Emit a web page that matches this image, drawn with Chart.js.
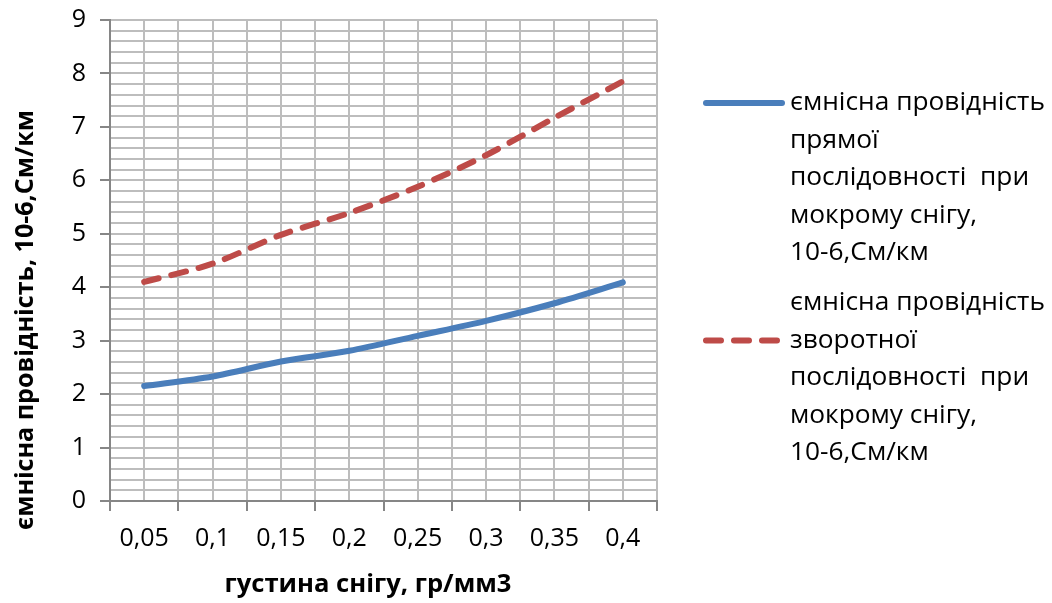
<!DOCTYPE html>
<html>
<head>
<meta charset="utf-8">
<script src="https://cdn.jsdelivr.net/npm/chart.js@4.4.1/dist/chart.umd.min.js"></script>
<style>
  html, body { margin: 0; padding: 0; background: #fff; }
  canvas { display: block; }
</style>
</head>
<body>
<canvas id="chart" width="1052" height="603"></canvas>
<script>
// Snow density categories (x axis)
const densities = ['0,05', '0,1', '0,15', '0,2', '0,25', '0,3', '0,35', '0,4'];
// Capacitive conductance, 10-6 S/km
const positiveSeq = [2.15, 2.33, 2.61, 2.81, 3.09, 3.37, 3.70, 4.09];
const negativeSeq = [4.10, 4.44, 4.98, 5.39, 5.88, 6.47, 7.17, 7.85];
// Labelled y ticks
const yTickValues = [0, 1, 2, 3, 4, 5, 6, 7, 8, 9];
// Texts
const positiveName = ['ємнісна провідність', 'прямої', 'послідовності  при', 'мокрому снігу,', '10-6,См/км'];
const negativeName = ['ємнісна провідність', 'зворотної', 'послідовності  при', 'мокрому снігу,', '10-6,См/км'];
const xTitle = 'густина снігу, гр/мм3';
const yTitle = 'ємнісна провідність, 10-6,См/км';

const FAMILY = '"Open Sans", "DejaVu Sans", sans-serif';
const BLUE = '#4a7ebb';
const RED = '#be4b48';
const GRID = '#bdbdbd';
const AXIS = '#868686';

const isWhole = v => Math.abs(v - Math.round(v)) < 1e-6;

function fitSize(ctx, text, weight, width) {
  ctx.font = `${weight} 100px ${FAMILY}`;
  return 100 * width / ctx.measureText(text).width;
}

// Axis titles and the wrapped legend on the right
const sideText = {
  id: 'sideText',
  afterDraw(chart) {
    const ctx = chart.ctx;
    ctx.save();
    ctx.fillStyle = '#000';

    // x axis title
    let s = fitSize(ctx, xTitle, 'bold', 287);
    ctx.font = `bold ${s}px ${FAMILY}`;
    ctx.textAlign = 'center';
    ctx.textBaseline = 'middle';
    ctx.fillText(xTitle, 368, 585);

    // y axis title
    s = fitSize(ctx, yTitle, 'bold', 420);
    ctx.font = `bold ${s}px ${FAMILY}`;
    ctx.translate(26, 320);
    ctx.rotate(-Math.PI / 2);
    ctx.fillText(yTitle, 0, 0);
    ctx.setTransform(1, 0, 0, 1, 0, 0);

    // legend
    const entries = [
      { ds: chart.data.datasets[0], lines: positiveName, top: 103, sampleRow: 0 },
      { ds: chart.data.datasets[1], lines: negativeName, top: 303, sampleRow: 1 }
    ];
    const ls = fitSize(ctx, positiveName[0], 'normal', 255);
    const gap = 37.5;
    entries.forEach(e => {
      const sy = e.top + e.sampleRow * gap;
      ctx.strokeStyle = e.ds.borderColor;
      ctx.lineWidth = e.ds.borderWidth;
      ctx.lineCap = 'round';
      ctx.setLineDash(e.ds.borderDash || []);
      ctx.beginPath();
      ctx.moveTo(706, sy);
      ctx.lineTo(782, sy);
      ctx.stroke();
      ctx.setLineDash([]);
      ctx.font = `${ls}px ${FAMILY}`;
      ctx.textAlign = 'left';
      ctx.textBaseline = 'middle';
      ctx.fillStyle = '#000';
      e.lines.forEach((t, i) => ctx.fillText(t, 790, e.top + i * gap));
    });
    ctx.restore();
  }
};

new Chart(document.getElementById('chart'), {
  type: 'line',
  data: {
    datasets: [
      {
        label: positiveName.join(' '),
        data: positiveSeq.map((v, i) => ({ x: i + 1, y: v })),
        borderColor: BLUE,
        borderWidth: 6,
        borderCapStyle: 'round',
        borderJoinStyle: 'round',
        pointRadius: 0,
        tension: 0.3,
        fill: false
      },
      {
        label: negativeName.join(' '),
        data: negativeSeq.map((v, i) => ({ x: i + 1, y: v })),
        borderColor: RED,
        borderWidth: 6,
        borderDash: [15, 13],
        borderCapStyle: 'round',
        borderJoinStyle: 'round',
        pointRadius: 0,
        tension: 0.3,
        fill: false
      }
    ]
  },
  options: {
    responsive: false,
    animation: false,
    layout: { padding: { left: 0, top: 20, right: 395, bottom: 0 } },
    plugins: {
      legend: { display: false },
      tooltip: { enabled: false }
    },
    scales: {
      x: {
        type: 'linear',
        min: 0.5,
        max: densities.length + 0.5,
        afterBuildTicks: scale => {
          const t = [];
          for (let v = 0.5; v <= densities.length + 0.5 + 1e-9; v += 0.5) t.push({ value: v });
          scale.ticks = t;
        },
        afterFit: scale => {
          scale.height = 102;
          scale.paddingLeft = 0;
          scale.paddingRight = 0;
        },
        grid: {
          color: GRID,
          lineWidth: 2,
          tickLength: 10,
          tickWidth: 2,
          tickColor: c => (c.tick && isWhole(c.tick.value)) ? 'rgba(0,0,0,0)' : AXIS
        },
        border: { color: AXIS, width: 2 },
        ticks: {
          autoSkip: false,
          maxRotation: 0,
          minRotation: 0,
          padding: 13,
          color: '#000',
          font: { family: FAMILY, size: 25 },
          callback: v => isWhole(v) ? densities[Math.round(v) - 1] : ''
        }
      },
      y: {
        type: 'linear',
        min: yTickValues[0],
        max: yTickValues[yTickValues.length - 1],
        afterBuildTicks: scale => {
          const t = [];
          const top = yTickValues[yTickValues.length - 1];
          for (let k = 0; k <= top * 5; k++) t.push({ value: k / 5 });
          scale.ticks = t;
        },
        afterFit: scale => {
          scale.width = 110;
          scale.paddingTop = 0;
          scale.paddingBottom = 0;
        },
        grid: {
          color: GRID,
          lineWidth: 2,
          tickLength: 10,
          tickWidth: 2,
          tickColor: c => (c.tick && isWhole(c.tick.value)) ? AXIS : 'rgba(0,0,0,0)'
        },
        border: { color: AXIS, width: 2 },
        ticks: {
          autoSkip: false,
          padding: 14,
          color: '#000',
          font: { family: FAMILY, size: 25 },
          callback: v => isWhole(v) ? String(Math.round(v)) : ''
        }
      }
    }
  },
  plugins: [sideText]
});
</script>
</body>
</html>
